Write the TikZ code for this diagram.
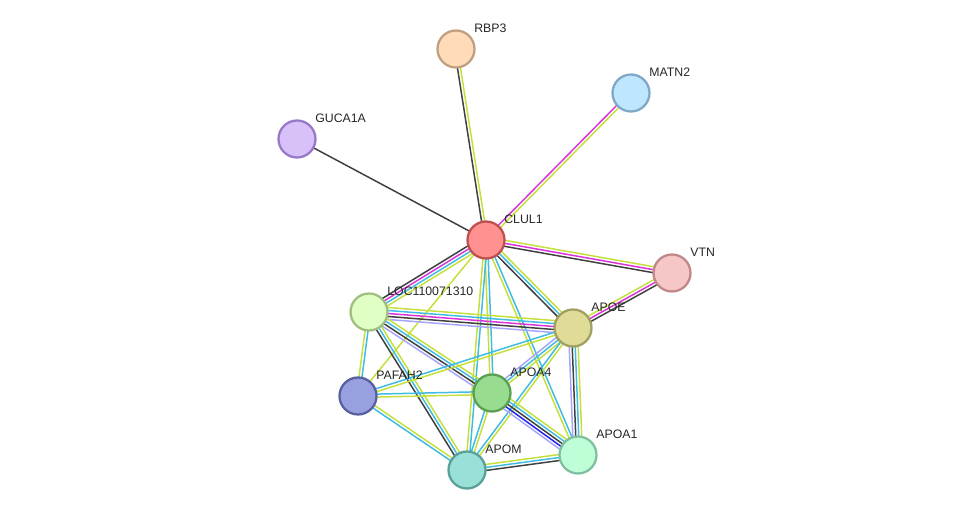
\documentclass[tikz,border=0pt]{standalone}
\usepackage{fontspec}
\setmainfont{Liberation Sans}
\usepackage{tikz}
\usetikzlibrary{calc}
\definecolor{txtgreen}{RGB}{197,224,60}
\definecolor{dbcyan}{RGB}{64,188,226}
\definecolor{coexblack}{RGB}{64,64,64}
\definecolor{expmag}{RGB}{218,52,218}
\definecolor{homlav}{RGB}{165,165,255}
\definecolor{coocblue}{RGB}{36,36,236}
\pgfdeclarelayer{bg}
\pgfsetlayers{bg,main}
\tikzset{
  prot/.style={circle, minimum size=0.74cm, inner sep=0pt, line width=1.3pt},
  lbl/.style={anchor=west, inner sep=0pt, font=\fontsize{7}{8}\selectfont, text=black!85},
  link/.style={line width=0.85pt}
}
% one coloured line per evidence channel, side by side
\newcommand\strlink[3]{%
  \foreach \c [count=\k] in {#3} {\xdef\nlines{\k}}%
  \foreach \c [count=\k] in {#3} {%
    \pgfmathsetmacro\off{(\k-(\nlines+1)/2)*1.7}%
    \draw[link, color=\c] ($(#1)!\off pt!90:(#2)$) -- ($(#2)!\off pt!-90:(#1)$);
  }}

\begin{document}
\begin{tikzpicture}[x=0.02cm, y=-0.02cm]
  \useasboundingbox (0,0) rectangle (975,516);

  % Proteins
  \node[prot, draw={rgb,255:red,192;green,80;blue,80}, fill={rgb,255:red,255;green,145;blue,145}] (clul1) at (486,240) {};
  \node[prot, draw={rgb,255:red,192;green,160;blue,128}, fill={rgb,255:red,255;green,219;blue,184}] (rbp3) at (456,49) {};
  \node[prot, draw={rgb,255:red,128;green,168;blue,200}, fill={rgb,255:red,191;green,230;blue,255}] (matn2) at (631,93) {};
  \node[prot, draw={rgb,255:red,152;green,120;blue,200}, fill={rgb,255:red,216;green,192;blue,248}] (guca1a) at (297,139) {};
  \node[prot, draw={rgb,255:red,192;green,136;blue,136}, fill={rgb,255:red,247;green,198;blue,198}] (vtn) at (672,273) {};
  \node[prot, draw={rgb,255:red,160;green,192;blue,128}, fill={rgb,255:red,224;green,255;blue,196}] (loc) at (369,312) {};
  \node[prot, draw={rgb,255:red,160;green,160;blue,96}, fill={rgb,255:red,224;green,220;blue,152}] (apoe) at (573,328) {};
  \node[prot, draw={rgb,255:red,88;green,96;blue,160}, fill={rgb,255:red,152;green,160;blue,224}] (pafah2) at (358,396) {};
  \node[prot, draw={rgb,255:red,88;green,160;blue,80}, fill={rgb,255:red,152;green,220;blue,144}] (apoa4) at (492,393) {};
  \node[prot, draw={rgb,255:red,128;green,192;blue,160}, fill={rgb,255:red,191;green,255;blue,216}] (apoa1) at (578,455) {};
  \node[prot, draw={rgb,255:red,88;green,160;blue,152}, fill={rgb,255:red,152;green,224;blue,216}] (apom) at (467,470) {};

  % Labels
  \node[lbl] (lclul1) at ($(clul1)+(18,-21)$) {CLUL1};
  \node[lbl] (lrbp3) at ($(rbp3)+(18,-21)$) {RBP3};
  \node[lbl] (lmatn2) at ($(matn2)+(18,-21)$) {MATN2};
  \node[lbl] (lguca1a) at ($(guca1a)+(18,-21)$) {GUCA1A};
  \node[lbl] (lvtn) at ($(vtn)+(18,-21)$) {VTN};
  \node[lbl] (lloc) at ($(loc)+(18,-21)$) {LOC110071310};
  \node[lbl] (lapoe) at ($(apoe)+(18,-21)$) {APOE};
  \node[lbl] (lpafah2) at ($(pafah2)+(18,-21)$) {PAFAH2};
  \node[lbl] (lapoa4) at ($(apoa4)+(18,-21)$) {APOA4};
  \node[lbl] (lapoa1) at ($(apoa1)+(18,-21)$) {APOA1};
  \node[lbl] (lapom) at ($(apom)+(18,-21)$) {APOM};

  % Interactions
  \begin{pgfonlayer}{bg}
    \strlink{rbp3}{clul1}{coexblack,txtgreen}
    \strlink{matn2}{clul1}{expmag,txtgreen}
    \strlink{guca1a}{clul1}{coexblack}
    \strlink{clul1}{vtn}{coexblack,expmag,txtgreen}
    \strlink{vtn}{apoe}{txtgreen,expmag,coexblack}
    \strlink{clul1}{loc}{coexblack,expmag,dbcyan,txtgreen}
    \strlink{clul1}{apoe}{coexblack,dbcyan,txtgreen}
    \strlink{clul1}{apoa4}{txtgreen,dbcyan}
    \strlink{clul1}{apom}{txtgreen,dbcyan}
    \strlink{clul1}{apoa1}{txtgreen,dbcyan}
    \strlink{clul1}{pafah2}{txtgreen}
    \strlink{loc}{apoe}{homlav,coexblack,expmag,dbcyan,txtgreen}
    \strlink{loc}{apoa4}{homlav,coexblack,dbcyan,txtgreen}
    \strlink{loc}{apom}{coexblack,dbcyan,txtgreen}
    \strlink{loc}{pafah2}{txtgreen,dbcyan}
    \strlink{apoe}{pafah2}{dbcyan,txtgreen}
    \strlink{apoe}{apoa4}{homlav,dbcyan,txtgreen}
    \strlink{apoe}{apoa1}{homlav,coexblack,dbcyan,txtgreen}
    \strlink{apoe}{apom}{dbcyan,txtgreen}
    \strlink{pafah2}{apoa4}{txtgreen,dbcyan}
    \strlink{pafah2}{apom}{dbcyan,txtgreen}
    \strlink{apoa4}{apoa1}{homlav,coocblue,coexblack,dbcyan,txtgreen}
    \strlink{apoa4}{apom}{dbcyan,txtgreen}
    \strlink{apom}{apoa1}{coexblack,dbcyan,txtgreen}
  \end{pgfonlayer}
\end{tikzpicture}
\end{document}
